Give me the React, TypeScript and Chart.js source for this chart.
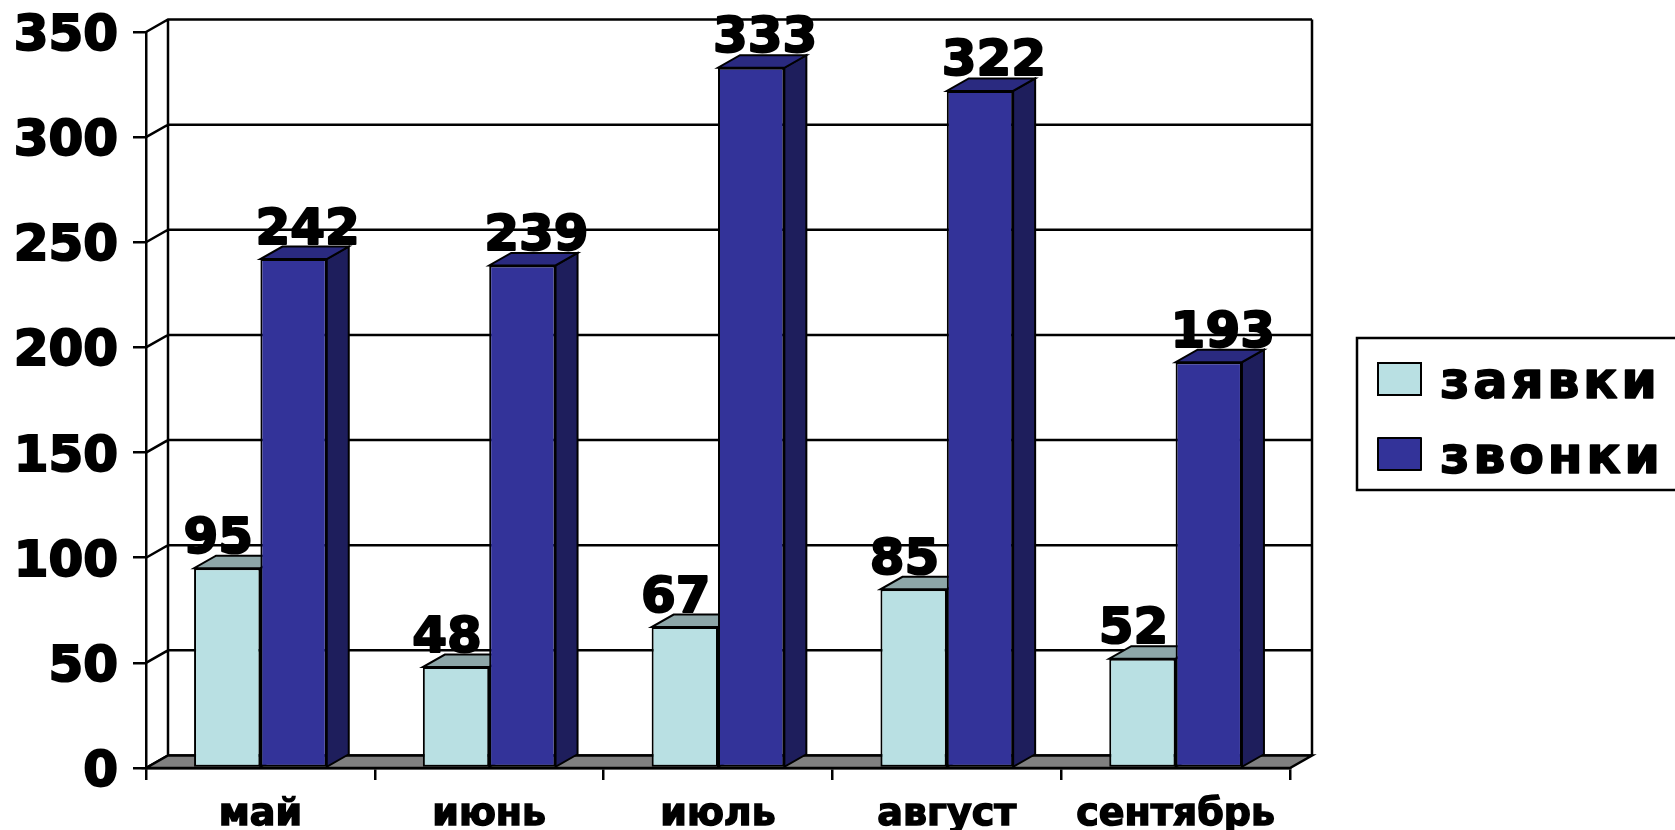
import React, { useEffect, useRef } from "react";
import { Chart, registerables } from "chart.js";

Chart.register(...registerables);

// ---- data ----
const months = ["май", "июнь", "июль", "август", "сентябрь"];
const requests = [95, 48, 67, 85, 52];
const calls = [242, 239, 333, 322, 193];
const seriesNames = ["заявки", "звонки"];
const yMin = 0;
const yMax = 350;
const yStep = 50;

// ---- styling ----
const FONT = "'DejaVu Sans', 'Liberation Sans', sans-serif";
const DEPTH_X = 22;
const DEPTH_Y = 12.5;
const faceColors = [
  { front: "#B9E0E3", top: "#8DA6A8", side: "#7E9698" },
  { front: "#333399", top: "#2A2A80", side: "#1E1E5C" },
];
const labelShift = [-9, 14];
const FLOOR = "#808080";
const INK = "#000000";
const FRAME_W = 2.5;

type Pt = [number, number];

function poly(ctx: CanvasRenderingContext2D, pts: Pt[], fill: string | null) {
  ctx.beginPath();
  ctx.moveTo(pts[0][0], pts[0][1]);
  for (let i = 1; i < pts.length; i++) ctx.lineTo(pts[i][0], pts[i][1]);
  ctx.closePath();
  if (fill) {
    ctx.fillStyle = fill;
    ctx.fill();
  }
  ctx.stroke();
}

// heavy text: fill plus a thin outline of the same colour
function heavyText(ctx: CanvasRenderingContext2D, text: string, x: number, y: number, w: number) {
  ctx.lineWidth = w;
  ctx.lineJoin = "round";
  ctx.strokeText(text, x, y);
  ctx.fillText(text, x, y);
}

// Back wall, side wall, floor and the top/side faces of every bar.
const depthFrame = {
  id: "depthFrame",
  beforeDatasetsDraw(chart: any) {
    const { ctx, chartArea } = chart;
    const yScale = chart.scales.y;
    const { left, right, bottom } = chartArea;
    ctx.save();
    ctx.strokeStyle = INK;
    ctx.lineWidth = FRAME_W;

    // grid lines on the back wall and the left side wall
    const tickVals: number[] = yScale.ticks.map((t: any) => t.value);
    const topY = yScale.getPixelForValue(yMax);
    ctx.beginPath();
    for (const v of tickVals) {
      const y = yScale.getPixelForValue(v);
      ctx.moveTo(left, y);
      ctx.lineTo(left + DEPTH_X, y - DEPTH_Y);
      ctx.lineTo(right + DEPTH_X, y - DEPTH_Y);
    }
    ctx.moveTo(left + DEPTH_X, topY - DEPTH_Y);
    ctx.lineTo(left + DEPTH_X, bottom - DEPTH_Y);
    ctx.moveTo(right + DEPTH_X, topY - DEPTH_Y);
    ctx.lineTo(right + DEPTH_X, bottom - DEPTH_Y);
    ctx.stroke();

    // floor
    poly(
      ctx,
      [
        [left, bottom],
        [right, bottom],
        [right + DEPTH_X, bottom - DEPTH_Y],
        [left + DEPTH_X, bottom - DEPTH_Y],
      ],
      FLOOR
    );

    // top and side faces (front faces are drawn by the bar controller afterwards)
    ctx.lineWidth = 2;
    chart.data.datasets.forEach((_ds: any, di: number) => {
      const meta = chart.getDatasetMeta(di);
      const col = faceColors[di];
      meta.data.forEach((bar: any) => {
        const { x, y, base, width } = bar.getProps(["x", "y", "base", "width"], true);
        const l = x - width / 2;
        const r = x + width / 2;
        poly(
          ctx,
          [
            [r, y],
            [r + DEPTH_X, y - DEPTH_Y],
            [r + DEPTH_X, base - DEPTH_Y],
            [r, base],
          ],
          col.side
        );
        poly(
          ctx,
          [
            [l, y],
            [r, y],
            [r + DEPTH_X, y - DEPTH_Y],
            [l + DEPTH_X, y - DEPTH_Y],
          ],
          col.top
        );
      });
    });
    ctx.restore();
  },
  afterDatasetsDraw(chart: any) {
    const { ctx } = chart;
    ctx.save();
    ctx.fillStyle = INK;
    ctx.strokeStyle = INK;
    ctx.font = `bold 50px ${FONT}`;
    ctx.textAlign = "center";
    ctx.textBaseline = "alphabetic";
    chart.data.datasets.forEach((ds: any, di: number) => {
      const meta = chart.getDatasetMeta(di);
      meta.data.forEach((bar: any, i: number) => {
        const { x, y } = bar.getProps(["x", "y"], true);
        heavyText(ctx, String(ds.data[i]), x + labelShift[di], y - DEPTH_Y - 3, 2);
      });
    });
    ctx.restore();
  },
};

// Boxed legend to the right of the plot.
const boxedLegend = {
  id: "boxedLegend",
  afterDraw(chart: any) {
    const { ctx, width } = chart;
    const boxL = 1357;
    const boxT = 338;
    const boxB = 490;
    ctx.save();
    ctx.strokeStyle = INK;
    ctx.lineWidth = FRAME_W;
    ctx.strokeRect(boxL, boxT, width + 10 - boxL, boxB - boxT);
    ctx.font = `bold 51px ${FONT}`;
    (ctx as any).letterSpacing = "3.5px";
    ctx.textAlign = "left";
    ctx.textBaseline = "alphabetic";
    chart.data.datasets.forEach((ds: any, di: number) => {
      const rowY = 363 + di * 75;
      ctx.fillStyle = ds.backgroundColor;
      ctx.fillRect(1378, rowY, 43, 32);
      ctx.lineWidth = 2;
      ctx.strokeRect(1378, rowY, 43, 32);
      ctx.fillStyle = INK;
      heavyText(ctx, ds.label, 1440, rowY + 35, 1.5);
    });
    ctx.restore();
  },
};

export default function App() {
  const canvasRef = useRef<HTMLCanvasElement | null>(null);

  useEffect(() => {
    if (!canvasRef.current) return;
    const chart = new Chart(canvasRef.current, {
      type: "bar",
      data: {
        labels: months,
        datasets: [
          {
            label: seriesNames[0],
            data: requests,
            backgroundColor: faceColors[0].front,
            borderColor: INK,
            borderWidth: 2,
            borderSkipped: false,
          },
          {
            label: seriesNames[1],
            data: calls,
            backgroundColor: faceColors[1].front,
            borderColor: INK,
            borderWidth: 2,
            borderSkipped: false,
          },
        ],
      },
      options: {
        responsive: false,
        animation: false,
        devicePixelRatio: 1,
        layout: { padding: { top: 32, right: 385, left: 0, bottom: 0 } },
        datasets: {
          bar: { categoryPercentage: 0.58, barPercentage: 1 },
        },
        plugins: {
          legend: { display: false },
          tooltip: { enabled: false },
        },
        scales: {
          x: {
            afterFit: (s: any) => {
              s.height = 62;
              s.paddingLeft = 0;
              s.paddingRight = 0;
            },
            grid: {
              offset: true,
              drawOnChartArea: false,
              drawTicks: true,
              tickLength: 12,
              color: INK,
              lineWidth: FRAME_W,
            },
            border: { display: true, color: INK, width: FRAME_W },
            ticks: {
              color: INK,
              padding: 12,
              textStrokeColor: INK,
              textStrokeWidth: 1.5,
              font: { family: FONT, size: 38, weight: "bold" },
            },
          },
          y: {
            min: yMin,
            max: yMax,
            afterFit: (s: any) => {
              s.width = 146;
              s.paddingTop = 0;
              s.paddingBottom = 0;
            },
            grid: {
              drawOnChartArea: false,
              drawTicks: true,
              tickLength: 13,
              color: INK,
              lineWidth: FRAME_W,
            },
            border: { display: true, color: INK, width: FRAME_W },
            ticks: {
              stepSize: yStep,
              color: INK,
              padding: 15,
              labelOffset: 5,
              textStrokeColor: INK,
              textStrokeWidth: 2,
              font: { family: FONT, size: 50, weight: "bold" },
            },
          },
        },
      },
      plugins: [depthFrame, boxedLegend],
    } as any);
    return () => chart.destroy();
  }, []);

  return (
    <div style={{ position: "fixed", left: 0, top: 0, width: 1675, height: 830, background: "#fff" }}>
      <canvas ref={canvasRef} width={1675} height={830} />
    </div>
  );
}
